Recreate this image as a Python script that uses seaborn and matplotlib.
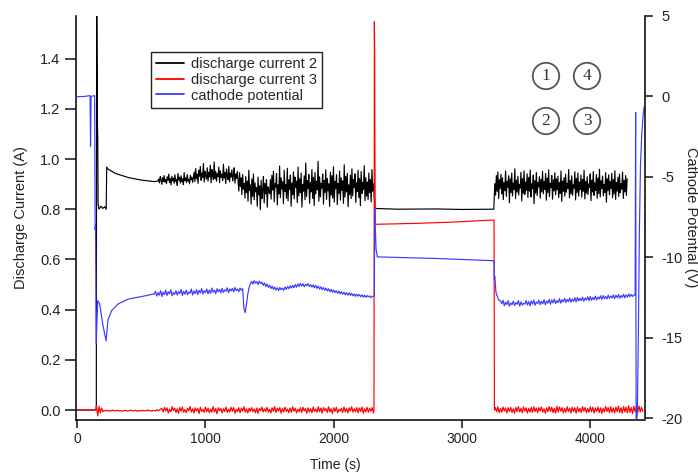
import numpy as np
import pandas as pd
import matplotlib
matplotlib.use("Agg")
import matplotlib.pyplot as plt
import seaborn as sns

sns.set_theme(style="ticks")
plt.rcParams["font.family"] = ["Liberation Sans", "DejaVu Sans"]
plt.rcParams["axes.unicode_minus"] = False

# ---------------- discharge current 2 (A) ----------------
dc2_start_t = [-12, 149, 152, 158, 160, 163, 170, 185, 200, 215, 226, 230, 240,
               300, 400, 500, 600, 624]
dc2_start_v = [0.0, 0.0, 1.65, 1.13, 1.08, 0.82, 0.80, 0.812, 0.803, 0.81, 0.80,
               0.968, 0.96, 0.942, 0.926, 0.916, 0.91, 0.912]
# sampled every 6 s from t = 630 s (mA)
dc2_run1_t0, dc2_run1_dt = 630, 6
dc2_run1_mA = [
    912, 921, 905, 930, 917, 899, 926, 910, 934, 908,
    918, 902, 929, 915, 940, 906, 922, 897, 931, 913,
    924, 903, 937, 911, 919, 895, 942, 916, 927, 904,
    933, 909, 921, 898, 946, 914, 925, 906, 938, 912,
    920, 901, 935, 917, 928, 907,
    925, 948, 910, 962, 921, 940, 903, 955, 931, 970,
    915, 944, 926, 982, 908, 951, 934, 920, 965, 912,
    947, 929, 975, 905, 958, 936, 918, 988, 922, 950,
    911, 942, 930, 968, 906, 953, 927, 939, 915, 979,
    924, 946, 902, 960, 933, 918, 971, 909, 944, 928,
    957, 913, 936, 965, 904, 940, 922, 951,
    915, 872, 946, 890, 925, 858, 938, 880, 902, 845,
    930, 866, 912, 832, 955, 874, 897, 820, 921, 851,
    940, 838, 905, 869, 886, 812, 928, 857, 893, 798,
    915, 842, 876, 930, 825, 903, 861, 918, 808, 889, 870,
    862, 918, 840, 935, 876, 951, 829, 903, 888, 942,
    817, 897, 861, 972, 846, 925, 880, 909, 822, 955,
    871, 898, 844, 963, 833, 917, 879, 936, 812, 904,
    858, 949, 841, 928, 887, 912, 826, 968, 853, 921,
    866, 944, 808, 899, 872, 933, 838, 984, 851, 914,
    882, 938, 824, 906, 869, 958, 843, 927, 815, 946,
    861, 911, 877, 991, 832, 929, 849, 903, 884, 940,
    820, 915, 866, 957, 839, 923, 873, 901, 811, 948,
    856, 934, 845, 969, 828, 910, 881, 937, 818, 902,
    864, 952, 836, 925, 875, 913, 823, 977, 848, 931,
    869, 943, 810, 897, 858, 936, 842, 961, 853, 918,
    886, 941, 827, 905, 871, 955, 846, 922, 814, 950,
    863, 907, 879, 973, 834, 926, 852, 909, 838, 944,
    866, 918, 829, 958, 872, 901]
dc2_hold_t = [2322, 2500, 2800, 3000, 3248]
dc2_hold_v = [0.803, 0.800, 0.801, 0.799, 0.800]
dc2_run2_t0, dc2_run2_dt = 3256, 6
dc2_run2_mA = [
    902, 856, 934, 871, 948, 843, 917, 882, 939, 861,
    925, 838, 906, 874, 952, 851, 912, 887, 933, 826,
    921, 866, 944, 853, 904, 879, 961, 842, 916, 868,
    931, 857, 899, 884, 947, 833, 922, 863, 953, 859,
    908, 876, 941, 847, 927, 872, 956, 849, 901, 881,
    936, 822, 914, 864, 946, 854, 906, 889, 929, 844,
    919, 869, 951, 861, 911, 879, 942, 836, 924, 866,
    957, 851, 903, 886, 934, 840, 917, 873, 945, 858,
    921, 877, 931, 846, 907, 863, 952, 831, 912, 871,
    926, 852, 939, 868, 903, 882, 958, 845, 915, 861,
    933, 856, 897, 884, 949, 837, 923, 866, 944, 852,
    908, 879, 936, 848, 919, 871, 955, 841, 911, 864,
    929, 858, 901, 887, 941, 834, 916, 869, 950, 855,
    905, 875, 938, 843, 924, 862, 959, 849, 913, 882,
    932, 853, 899, 867, 946, 828, 921, 874, 937, 857,
    910, 883, 943, 846, 918, 861, 953, 839, 906, 872,
    927, 851, 940, 866, 902, 880, 948, 843, 915, 869,
    934, 855, 921]

# ---------------- discharge current 3 (A) ----------------
dc3_start_t = [-12, 130, 145]
dc3_start_v = [0.0, 0.0, 0.003]
dc3_run1_t0, dc3_run1_dt = 150, 10
dc3_run1_mA = [
    18, -24, 15, -12, 8, -6,
    -2, -4, -1, -3, -5, -2, -3, 0, -4, -2,
    -3, -1, -4, -2, -5, -3, -1, -2, -4, -3,
    -2, 0, -3, -4, -1, -2, -5, -3, -2, -4,
    -1, -3, -2, -4, 1, -3, -2, -5, -1, -3,
    -4, 2, -3, -1, 4,
    6, -8, 11, -4, 9, -12, 3, -7, 13, -2,
    8, -10, 5, -13, 10, -5, 12, -9, 2, -11,
    7, -3, 14, -8, 5, -12, 9, -4, 6, -14,
    11, -6, 3, -10, 12, -7, 8, -11, 4, -9,
    13, -8, 6, -15, 9, -3, 7, -12, 5, -6,
    12, -10, 4, -8, 11, -5, 10, -13, 3, -7,
    9, -11, 8, -4, 13, -9, 5, -12, 7, -5,
    10, -7, 4, -11, 8, -14, 6, -3, 12, -8,
    5, -6, 11, -9, 3, -12, 9, -5, 14, -10,
    7, -4, 10, -13, 6, -8, 12, -6, 4, -11,
    8, -9, 13, -5, 7, -12, 3, -7, 10, -10,
    11, -4, 6, -13, 9, -8, 5, -11, 12, -6,
    4, -9, 14, -7, 8, -12, 10, -3, 6, -10,
    13, -8, 5, -14, 9, -6, 11, -11, 3, -5,
    7, -10, 12, -8, 6, -12, 9, -4, 13, -9,
    5, -7, 10, -11, 8, -6, 12, -13, 4, -8,
    11, -9, 7, -5, 10, -12]
dc3_hold_t = [2314, 2317, 2319, 2321, 2324, 2335, 2600, 2900, 3250, 3253]
dc3_hold_v = [0.0, 1.547, 1.43, 1.06, 0.74, 0.740, 0.743, 0.748, 0.757, 0.0]
dc3_run2_t0, dc3_run2_dt = 3260, 10
dc3_run2_mA = [
    10, -7, 13, -11, 6, -9, 12, -4, 8, -12,
    9, -6, 11, -10, 5, -13, 10, -7, 14, -8,
    7, -11, 12, -5, 9, -12, 6, -8, 11, -10,
    13, -6, 8, -11, 10, -4, 12, -9, 5, -13,
    9, -7, 14, -6, 11, -10, 7, -12, 15, -8,
    12, -5, 10, -11, 6, -9, 13, -7, 8, -12,
    11, -6, 9, -13, 12, -8, 7, -10, 14, -5,
    10, -11, 6, -9, 13, -7, 11, -12, 8, -6,
    12, -10, 9, -14, 7, -8, 15, -6, 10, -11,
    13, -9, 8, -12, 11, -7, 16, -10, 9, -13,
    14, -8, 12, -11, 17, -9, 10, -14, 15, -7,
    12, -10, 16, -8, 11, -6]

# ---------------- cathode potential (V) ----------------
cp_start_t = [-12, 60, 100, 104, 108, 136, 140, 143, 148, 160, 175, 200, 225, 240,
              270, 320, 400, 500, 590]
cp_start_v = [-0.02, 0.0, 0.05, -3.1, 0.0, 0.05, -8.3, -8.0, -15.4, -12.7, -12.9,
              -14.2, -15.2, -13.9, -13.3, -12.9, -12.6, -12.45, -12.3]
cp_run1_t0, cp_run1_dt = 600, 10
cp_run1_v = [
    -12.30, -12.12, -12.42, -12.20, -12.36, -12.08, -12.45, -12.18, -12.33, -12.05,
    -12.38, -12.15, -12.28, -12.02, -12.40, -12.20, -12.31, -12.09, -12.36, -12.14,
    -12.26, -12.00, -12.38, -12.12, -12.30, -12.05, -12.33, -12.16, -12.24, -11.98,
    -12.35, -12.10, -12.26, -12.02, -12.32, -12.06, -12.22, -11.95, -12.30, -12.08,
    -12.20, -11.98, -12.28, -12.04, -12.25, -11.92, -12.18, -12.05, -12.27, -11.96,
    -12.15, -12.00, -12.22, -11.93, -12.19, -12.03, -12.12, -11.90, -12.20, -11.97,
    -12.10, -11.94, -12.16, -11.88, -12.08, -11.98, -12.14, -11.92, -12.05, -11.95,
    -13.20, -13.45, -12.90, -12.30, -11.90, -11.65, -11.50, -11.68, -11.45, -11.62,
    -11.52, -11.70, -11.48, -11.64, -11.55, -11.75, -11.60, -11.82, -11.66, -11.88,
    -11.74, -11.95, -11.80, -12.00, -11.86, -12.04, -11.90, -12.08, -11.88, -12.02,
    -11.92, -12.06, -11.85, -12.00, -11.82, -11.96, -11.78, -11.92, -11.75, -11.90,
    -11.70, -11.86, -11.66, -11.82, -11.62, -11.80, -11.65, -11.84, -11.68, -11.78,
    -11.64, -11.82, -11.70, -11.86, -11.72, -11.90, -11.76, -11.94, -11.80, -11.98,
    -11.84, -12.02, -11.88, -12.06, -11.92, -12.10, -11.96, -12.14, -12.00, -12.18,
    -12.04, -12.20, -12.08, -12.25, -12.10, -12.28, -12.14, -12.30, -12.18, -12.34,
    -12.20, -12.36, -12.22, -12.38, -12.25, -12.40, -12.28, -12.44, -12.30, -12.42,
    -12.32, -12.46, -12.34, -12.48, -12.36, -12.50, -12.38, -12.47, -12.40, -12.52,
    -12.45]
cp_hold_t = [2317, 2319, 2330, 2340, 2800, 3250, 3252, 3256, 3265, 3285]
cp_hold_v = [-12.4, -6.9, -9.5, -9.98, -10.08, -10.22, -11.4, -11.2, -12.2, -12.65]
cp_run2_t0, cp_run2_dt = 3300, 10
cp_run2_v = [
    -12.72, -12.90, -12.68, -13.02, -12.80, -12.95, -12.70, -13.05, -12.84, -12.96,
    -12.74, -13.00, -12.82, -12.93, -12.70, -13.04, -12.78, -12.98, -12.86, -12.92,
    -12.70, -12.97, -12.76, -13.02, -12.72, -12.92, -12.66, -12.99, -12.78, -12.88,
    -12.68, -12.95, -12.74, -12.90, -12.64, -12.96, -12.72, -12.86, -12.62, -12.92,
    -12.66, -12.84, -12.60, -12.88, -12.70, -12.82, -12.58, -12.86, -12.64, -12.78,
    -12.56, -12.82, -12.62, -12.76, -12.54, -12.80, -12.60, -12.74, -12.52, -12.78,
    -12.50, -12.72, -12.56, -12.70, -12.48, -12.74, -12.54, -12.66, -12.46, -12.70,
    -12.44, -12.68, -12.50, -12.64, -12.42, -12.66, -12.48, -12.60, -12.40, -12.62,
    -12.38, -12.58, -12.44, -12.60, -12.36, -12.56, -12.42, -12.54, -12.34, -12.58,
    -12.36, -12.52, -12.32, -12.55, -12.38, -12.50, -12.30, -12.53, -12.34, -12.48,
    -12.28, -12.46, -12.32, -12.44, -12.35]
cp_end_t = [4350, 4354, 4358, 4367, 4375, 4383, 4392, 4402, 4412, 4420]
cp_end_v = [-12.35, -1.0, -20.6, -19.7, -15.0, -8.5, -4.2, -2.3, -1.2, -0.65]

series_labels = ["discharge current 2", "discharge current 3", "cathode potential"]
markers_text = ["1", "4", "2", "3"]


def run(t0, dt, vals, scale=1.0):
    t = t0 + dt * np.arange(len(vals))
    return t, np.asarray(vals, dtype=float) * scale


def assemble(*parts):
    ts = np.concatenate([np.asarray(p[0], dtype=float) for p in parts])
    vs = np.concatenate([np.asarray(p[1], dtype=float) for p in parts])
    return pd.DataFrame({"t": ts, "v": vs})


dc2 = assemble((dc2_start_t, dc2_start_v), run(dc2_run1_t0, dc2_run1_dt, dc2_run1_mA, 1e-3),
               (dc2_hold_t, dc2_hold_v), run(dc2_run2_t0, dc2_run2_dt, dc2_run2_mA, 1e-3))
dc3 = assemble((dc3_start_t, dc3_start_v), run(dc3_run1_t0, dc3_run1_dt, dc3_run1_mA, 1e-3),
               (dc3_hold_t, dc3_hold_v), run(dc3_run2_t0, dc3_run2_dt, dc3_run2_mA, 1e-3))
cp = assemble((cp_start_t, cp_start_v), run(cp_run1_t0, cp_run1_dt, cp_run1_v),
              (cp_hold_t, cp_hold_v), run(cp_run2_t0, cp_run2_dt, cp_run2_v),
              (cp_end_t, cp_end_v))

BLACK, RED, BLUE = "#000000", "#ff0000", "#3a3aff"

W, H = 698, 472
fig = plt.figure(figsize=(W / 100, H / 100), dpi=100)
ax_l, ax_r, ax_t, ax_b = 75.7, 645.0, 15.5, 419.5
ax = fig.add_axes([ax_l / W, 1 - ax_b / H, (ax_r - ax_l) / W, (ax_b - ax_t) / H])
ax.set_facecolor("white")
ax2 = ax.twinx()

lw = 0.85
sns.lineplot(data=dc2, x="t", y="v", ax=ax, color=BLACK, lw=lw, estimator=None,
             sort=False, label=series_labels[0], legend=False)
sns.lineplot(data=dc3, x="t", y="v", ax=ax, color=RED, lw=lw, estimator=None,
             sort=False, label=series_labels[1], legend=False)
sns.lineplot(data=cp, x="t", y="v", ax=ax2, color=BLUE, lw=lw, estimator=None,
             sort=False, label=series_labels[2], legend=False)

ax.set_xlim(-11.7, 4427)
ax.set_ylim(-0.0378, 1.5717)
ax2.set_ylim(-20.093, 5.031)

ax.set_xticks([0, 1000, 2000, 3000, 4000])
ax.set_yticks([0.0, 0.2, 0.4, 0.6, 0.8, 1.0, 1.2, 1.4])
ax.set_yticklabels([f"{v:.1f}" for v in ax.get_yticks()])
ax2.set_yticks([5, 0, -5, -10, -15, -20])

for a in (ax, ax2):
    a.spines["top"].set_visible(False)
    for s in a.spines.values():
        s.set_linewidth(1.2)
        s.set_color("#111111")
ax.spines["right"].set_visible(False)
ax2.spines["left"].set_visible(False)
ax2.spines["bottom"].set_visible(False)
ax2.spines["right"].set_bounds(-20, 5)

ax.tick_params(axis="x", direction="out", length=6, width=1.1, pad=3,
               labelsize=10, color="#111111", labelcolor="#222222")
ax.tick_params(axis="y", direction="out", length=8, width=1.1, pad=3,
               labelsize=10.5, color="#111111", labelcolor="#222222")
ax2.tick_params(axis="y", direction="out", length=6, width=1.1, pad=6,
                labelsize=10.5, color="#111111", labelcolor="#222222")

ax.set_xlabel("Time (s)", fontsize=10, color="#222222")
ax.xaxis.set_label_coords((335 - ax_l) / (ax_r - ax_l), -(458 - ax_b) / (ax_b - ax_t))
ax.set_ylabel("Discharge Current (A)", fontsize=10.5, color="#222222")
ax.yaxis.set_label_coords(-(ax_l - 28) / (ax_r - ax_l), 0.5)
ax2.set_ylabel("Cathode Potential (V)", fontsize=10.5, color="#222222",
               rotation=270, va="bottom")
ax2.yaxis.set_label_coords((684 - ax_l) / (ax_r - ax_l), 0.5)

handles = ax.get_lines()[:2] + ax2.get_lines()[:1]
leg = ax.legend(handles, series_labels, loc="upper left",
                bbox_to_anchor=((151 - ax_l) / (ax_r - ax_l), 1 - (52 - ax_t) / (ax_b - ax_t)),
                borderaxespad=0, frameon=True, fancybox=False, framealpha=1,
                edgecolor="#222222", fontsize=10.5, handlelength=1.9,
                handletextpad=0.5, borderpad=0.35, labelspacing=0.12)
leg.get_frame().set_linewidth(1.0)
for h in leg.legend_handles:
    h.set_linewidth(1.3)
leg.set_zorder(5)

circle_pos = [(546, 76), (587, 76), (546, 121), (587, 121)]
for txt, (px, py) in zip(markers_text, circle_pos):
    fig.text(px / W, 1 - py / H, txt, ha="center", va="center", fontsize=12.5,
             family=["Liberation Serif", "DejaVu Serif"], color="#333333",
             bbox=dict(boxstyle="circle,pad=0.3", fc="none", ec="#555555", lw=1.3))

fig.savefig("out.png", dpi=100, facecolor="white")
